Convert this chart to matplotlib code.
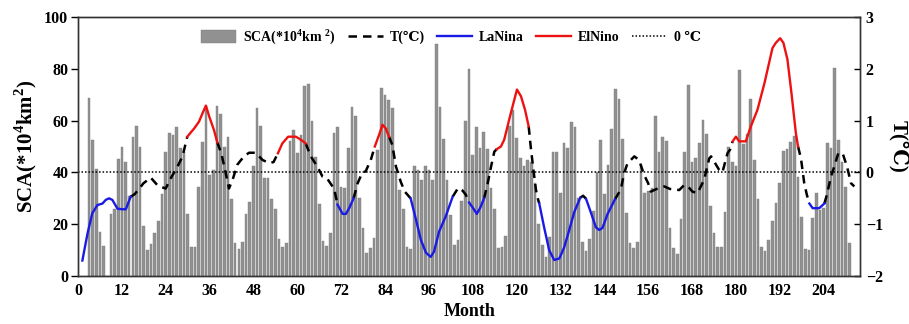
import matplotlib
matplotlib.use("Agg")
import matplotlib.pyplot as plt
from matplotlib.patches import Patch
from matplotlib.lines import Line2D

plt.rcParams['font.family'] = ['Liberation Serif', 'DejaVu Serif', 'DejaVu Sans']
plt.rcParams['font.weight'] = 'bold'
plt.rcParams['mathtext.fontset'] = 'custom'
plt.rcParams['mathtext.rm'] = 'Liberation Serif:bold'
plt.rcParams['mathtext.bf'] = 'Liberation Serif:bold'

# ---------------- data ----------------
bar_months = list(range(3, 212))
sca = [68.7, 52.6, 41.2, 17.1, 11.6, 0.0, 23.8, 25.9, 45.2, 50.0,      # 3-12
       44.2, 30.9, 53.6, 58.0, 50.0, 19.3, 10.0, 12.2, 16.8, 21.4,     # 13-22
       31.7, 47.7, 55.2, 54.3, 57.5, 49.4, 48.0, 23.8, 11.3, 11.3,     # 23-32
       34.5, 51.8, 65.5, 39.0, 41.0, 65.7, 62.6, 50.0, 53.5, 29.6,     # 33-42
       12.9, 10.3, 13.3, 24.0, 28.5, 42.3, 64.7, 58.0, 37.8, 37.8,     # 43-52
       29.8, 25.9, 14.4, 11.3, 12.9, 52.3, 56.2, 47.4, 54.5, 73.5,     # 53-62
       74.0, 59.7, 46.1, 27.7, 13.5, 11.6, 16.8, 55.2, 57.7, 34.3,     # 63-72
       33.9, 49.4, 65.2, 61.6, 30.0, 18.4, 8.8, 11.0, 14.8, 48.7,      # 73-82
       72.6, 70.0, 68.0, 64.8, 40.0, 33.2, 25.8, 11.1, 10.6, 42.5,     # 83-92
       41.0, 36.9, 42.5, 41.0, 37.1, 89.7, 65.2, 52.8, 36.9, 23.6,     # 93-102
       12.0, 13.9, 29.0, 60.0, 79.9, 46.8, 57.5, 49.4, 55.7, 49.0,     # 103-112
       34.0, 25.8, 10.7, 11.3, 15.6, 58.0, 64.2, 53.2, 45.5, 42.3,     # 113-122
       44.8, 44.0, 35.8, 20.0, 12.0, 7.5, 15.2, 48.0, 48.0, 32.0,      # 123-132
       51.3, 49.4, 59.3, 57.7, 30.0, 13.3, 9.8, 14.2, 25.0, 40.0,      # 133-142
       52.6, 31.7, 42.8, 56.8, 72.2, 68.3, 52.8, 24.2, 12.9, 11.0,     # 143-152
       13.0, 43.0, 32.0, 33.0, 34.0, 61.6, 48.0, 53.6, 52.3, 18.4,     # 153-162
       10.7, 8.4, 21.9, 48.0, 73.8, 44.1, 45.4, 51.5, 60.3, 54.9,      # 163-172
       27.0, 16.8, 11.1, 11.4, 24.8, 50.0, 44.2, 42.3, 79.6, 51.0,     # 173-182
       54.9, 68.3, 44.8, 29.6, 11.3, 9.8, 13.9, 21.4, 28.1, 35.8,      # 183-192
       48.1, 49.0, 51.9, 53.9, 38.4, 22.7, 10.3, 10.0, 22.3, 32.2,     # 193-202
       25.5, 26.2, 51.5, 49.4, 80.3, 52.6, 44.2, 34.3, 12.9]           # 203-211

t_months = [1.2, 2.6, 3.9, 5.3, 6.7, 7.6, 8.5, 9.4, 10.8, 12.1, 13.1, 14.4,
            15.5, 16.7, 17.9, 19.9, 21.9, 24.0, 25.4, 27.2, 28.6,
            29.9, 31.8, 33.1, 34.3, 35.0, 35.9, 37.2, 38.1,
            39.2, 40.2, 41.3, 42.3, 43.6, 45.4, 46.8, 48.6, 50.5, 52.3, 53.5,
            54.7, 55.9, 57.5, 59.6, 61.0, 62.3,
            63.7, 65.5, 66.9, 68.1, 70.1,
            71.0, 72.4, 73.3, 74.2, 75.4,
            76.5, 77.8, 78.7, 80.1,
            81.2, 82.4, 83.3, 84.2, 85.1,
            86.0, 87.0, 88.3, 89.4,
            91.0, 92.4, 93.8, 95.2, 96.5, 97.4, 98.8, 100.6, 102.5,
            104.0, 105.2, 106.1,
            107.0, 108.2, 109.1, 110.0, 111.1,
            112.0, 113.0, 113.9,
            114.6, 115.7, 116.6, 118.4, 120.1, 121.2, 122.3, 123.3,
            123.9, 124.6, 125.3, 125.9,
            126.2, 127.5, 128.9, 130.3, 131.7, 133.0, 134.4, 135.8, 137.4,
            138.2,
            139.0, 140.3, 141.7, 142.6, 143.5, 144.9, 146.9,
            148.5, 149.4, 150.3, 152.2, 153.5, 154.9, 156.0, 156.7, 158.6,
            160.4, 162.0, 164.5, 165.9, 167.0, 168.1, 169.5, 171.3, 172.7,
            173.2, 175.4, 176.3, 177.7, 178.4,
            179.1, 180.0, 180.9, 182.7, 184.1, 185.9, 187.8, 190.0, 190.9,
            192.1, 193.0, 194.1, 195.2, 196.4, 197.0,
            197.8, 198.7, 199.4,
            200.1, 201.0, 202.8, 204.2,
            204.9, 206.0, 206.9, 208.0, 209.2, 210.4, 211.5, 212.4]
t_values = [-1.70, -1.18, -0.79, -0.63, -0.60, -0.53, -0.50, -0.53, -0.70, -0.71, -0.71, -0.47,
            -0.42, -0.32, -0.21, -0.10, -0.26, -0.31, -0.11, 0.11, 0.31,
            0.69, 0.85, 0.98, 1.18, 1.29, 1.08, 0.82, 0.58,
            0.37, 0.06, -0.31, -0.14, 0.15, 0.31, 0.38, 0.38, 0.24, 0.18, 0.20,
            0.37, 0.56, 0.69, 0.69, 0.63, 0.56,
            0.31, 0.11, -0.08, -0.11, -0.32,
            -0.62, -0.80, -0.80, -0.69, -0.50,
            -0.21, 0.00, 0.02, 0.24,
            0.50, 0.73, 0.92, 0.85, 0.69,
            0.53, 0.11, -0.18, -0.37,
            -0.50, -0.89, -1.30, -1.55, -1.63, -1.53, -1.14, -0.85, -0.47,
            -0.30, -0.35, -0.43,
            -0.58, -0.70, -0.80, -0.69, -0.50,
            -0.24, 0.11, 0.40,
            0.45, 0.50, 0.63, 1.14, 1.60, 1.47, 1.21, 0.89,
            0.47, 0.05, -0.34, -0.53,
            -0.60, -1.05, -1.50, -1.69, -1.66, -1.45, -1.11, -0.76, -0.49,
            -0.45,
            -0.51, -0.77, -1.06, -1.11, -1.07, -0.80, -0.52,
            -0.33, -0.02, 0.17, 0.31, 0.24, -0.05, -0.21, -0.37, -0.31,
            -0.27, -0.32, -0.34, -0.24, -0.28, -0.37, -0.40, -0.14, 0.27,
            0.31, 0.05, 0.00, 0.37, 0.44,
            0.60, 0.69, 0.60, 0.60, 0.89, 1.21, 1.72, 2.40, 2.50,
            2.59, 2.50, 2.18, 1.53, 0.76, 0.50,
            0.27, -0.21, -0.43,
            -0.60, -0.69, -0.69, -0.60,
            -0.43, -0.08, 0.11, 0.37, 0.37, 0.11, -0.21, -0.27]

lanina_periods = [(1.2, 14.4), (71.0, 75.4), (91.0, 102.5), (107.0, 111.1),
                  (126.2, 137.4), (139.0, 146.9), (200.1, 204.2)]
elnino_periods = [(29.9, 38.1), (54.7, 62.3), (81.2, 85.1), (114.6, 123.3),
                  (179.1, 197.0)]

x_ticks = list(range(0, 205, 12))
sca_ticks = [0, 20, 40, 60, 80, 100]
t_ticks = [-2, -1, 0, 1, 2, 3]

# ---------------- figure ----------------
fig = plt.figure(figsize=(9.09, 3.24), dpi=100)
ax = fig.add_axes([0.0858, 0.148, 0.8605, 0.7995])
ax.bar(bar_months, sca, width=0.72, color='#919191', edgecolor='#7d7d7d',
       linewidth=0.3, zorder=2)
ax.set_xlim(0, 214)
ax.set_ylim(0, 100)
ax.set_xticks(x_ticks)
ax.set_yticks(sca_ticks)
ax.tick_params(axis='y', direction='out', length=5, width=1, labelsize=11.5, pad=2)
ax.tick_params(axis='x', direction='in', length=0, labelsize=11.5, pad=5)
for lab in ax.get_xticklabels() + ax.get_yticklabels():
    lab.set_fontweight('bold')
ax.set_xlabel('Month', fontsize=13, fontweight='bold', labelpad=3)
ax.set_ylabel(r'SCA(*10$^\mathbf{4}$km$^\mathbf{2}$)', fontsize=15,
              fontweight='bold', labelpad=4)
for s in ax.spines.values():
    s.set_color('#333333')
    s.set_linewidth(1.0)

ax2 = ax.twinx()
ax2.set_ylim(-2, 3)
ax2.set_yticks(t_ticks)
ax2.tick_params(axis='y', direction='in', length=4, width=1, labelsize=11.5, pad=4)
for lab in ax2.get_yticklabels():
    lab.set_fontweight('bold')
ax2.set_ylabel('T(℃)', fontsize=15, fontweight='bold', rotation=270, labelpad=18)
for s in ax2.spines.values():
    s.set_color('#333333')
    s.set_linewidth(1.0)

ax2.axhline(0, color='black', linestyle=(0, (1, 1.3)), linewidth=1.1, zorder=1)

def pick(a, b):
    xs, ys = [], []
    for m, v in zip(t_months, t_values):
        if a - 1e-9 <= m <= b + 1e-9:
            xs.append(m)
            ys.append(v)
    return xs, ys

phases = sorted([(a, b, 'L') for a, b in lanina_periods] +
                [(a, b, 'E') for a, b in elnino_periods])
neutral = []
prev_end = None
for a, b, _ in phases:
    if prev_end is not None and a > prev_end:
        neutral.append((prev_end, a))
    prev_end = b
neutral.append((prev_end, t_months[-1]))

dash = (0, (3.4, 2.4))
for a, b in neutral:
    xs, ys = pick(a, b)
    ax2.plot(xs, ys, color='black', linewidth=1.8, linestyle=dash, zorder=3)
for a, b, kind in phases:
    xs, ys = pick(a, b)
    ax2.plot(xs, ys, color='#1a1ae6' if kind == 'L' else '#ee1111',
             linewidth=1.7, zorder=4)

handles = [Patch(facecolor='#919191', edgecolor='#7d7d7d', linewidth=0.3),
           Line2D([], [], color='black', linewidth=1.8, linestyle=dash),
           Line2D([], [], color='#1a1ae6', linewidth=1.7),
           Line2D([], [], color='#ee1111', linewidth=1.7),
           Line2D([], [], color='black', linewidth=1.1, linestyle=(0, (1, 1.3)))]
labels = [r'SCA(*10$^\mathbf{4}$km $^\mathbf{2}$)', 'T(℃)', 'LaNina', 'ElNino', '0 ℃']
leg = ax2.legend(handles, labels, loc='upper center', bbox_to_anchor=(0.477, 1.0),
                 ncol=5, frameon=False, fontsize=10, handlelength=2.5,
                 handleheight=1.0, columnspacing=0.9, handletextpad=0.5,
                 borderaxespad=0.35)
for t in leg.get_texts():
    t.set_fontweight('bold')

fig.savefig('out.png', dpi=100)
